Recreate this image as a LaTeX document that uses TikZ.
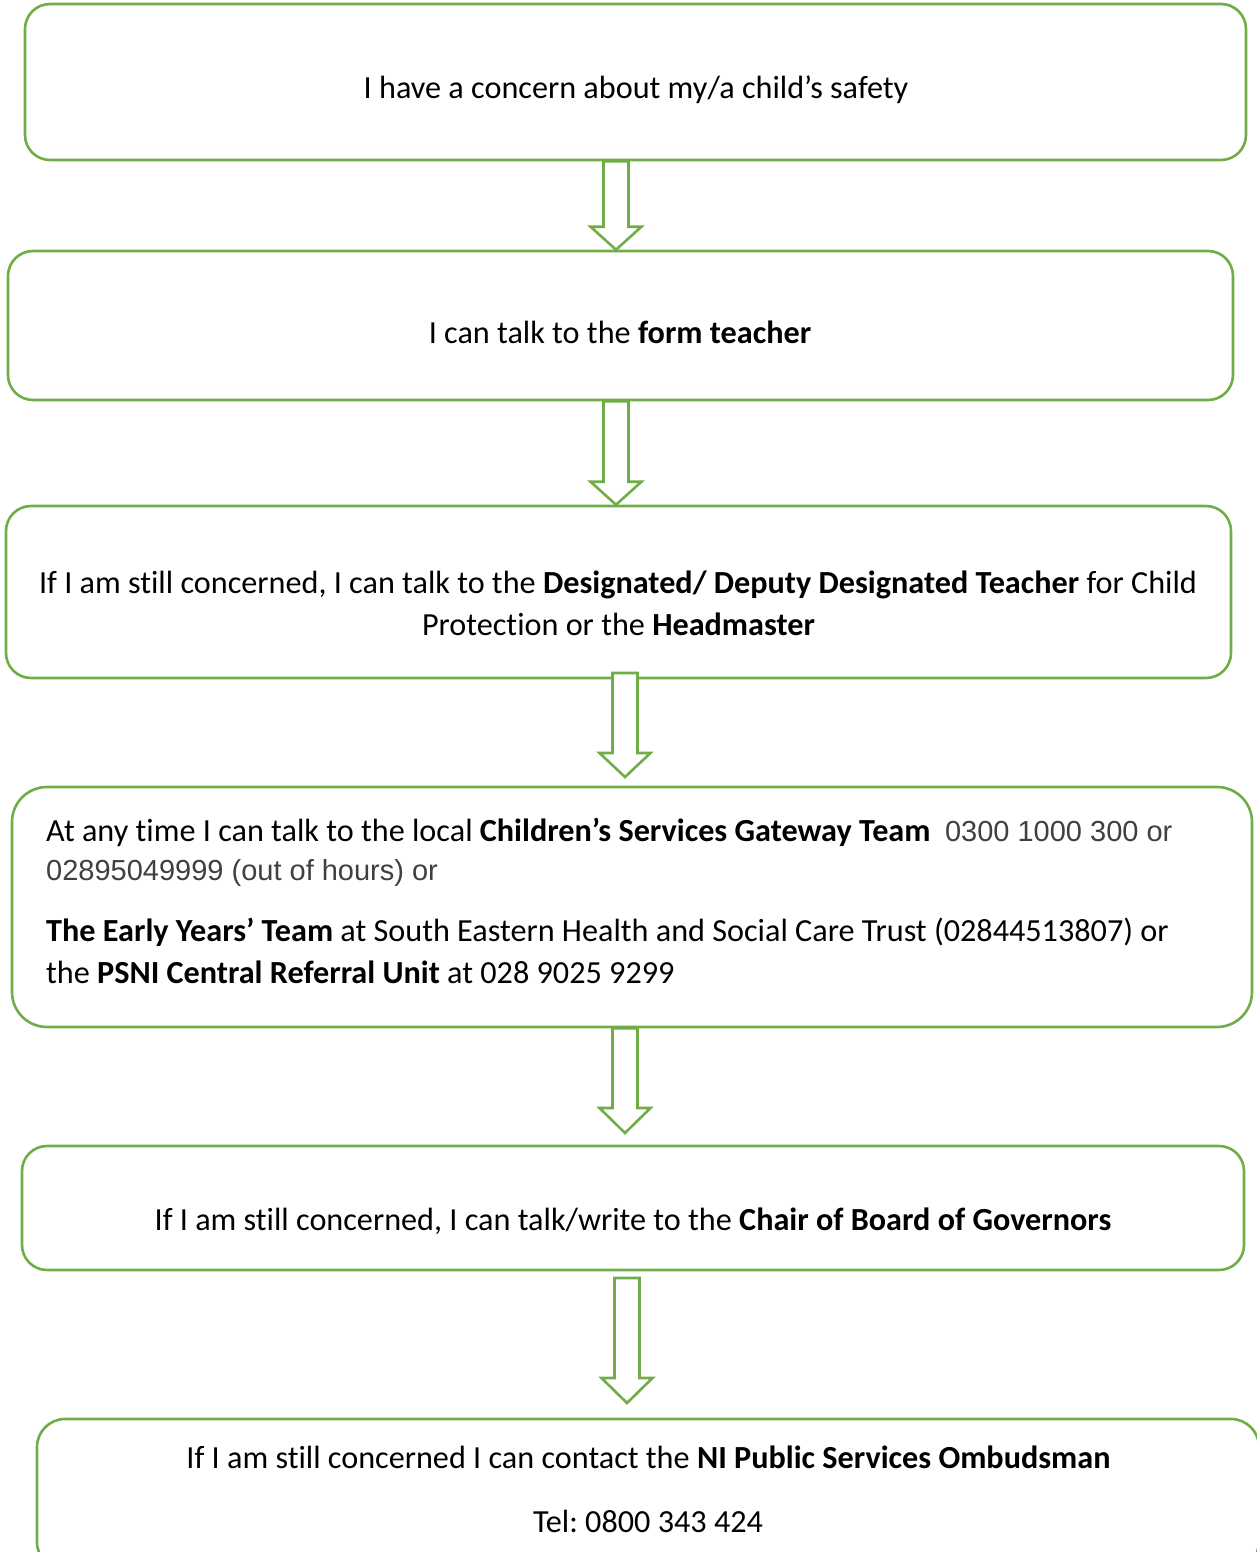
\documentclass[tikz,border=0pt]{standalone}
\usepackage{fontspec}
\setmainfont[RawFeature=-liga]{Carlito}
\newfontfamily\arialf{Liberation Sans}
\usetikzlibrary{calc}
\definecolor{grn}{HTML}{70AD47}
\definecolor{gry}{HTML}{404040}
\tikzset{
  box/.style={draw=grn, line width=2.6pt, rounded corners=25pt, fill=white, inner sep=0pt},
  barrow/.style={draw=grn, line width=2.6pt, fill=white, line join=miter},
  txt/.style={anchor=base, inner sep=0pt, font=\fontsize{32.2}{41}\selectfont\frenchspacing},
  ltxt/.style={anchor=base west, inner sep=0pt, font=\fontsize{32.2}{41}\selectfont\frenchspacing},
}
\newcommand\blockarrow[3]{% top coord, tip coord, head height
  \draw[barrow] ($(#1)+(-12.5,0)$) -- ($(#2)+(-12.5,-#3)$) -- ($(#2)+(-25.5,-#3)$) -- (#2)
    -- ($(#2)+(25.5,-#3)$) -- ($(#2)+(12.5,-#3)$) -- ($(#1)+(12.5,0)$) -- cycle;}
\begin{document}
\begin{tikzpicture}[x=1pt,y=-1pt]
\useasboundingbox (0,0) rectangle (1257,1552);
\clip (0,0) rectangle (1257,1552);
% boxes
\node[box, minimum width=1221pt, minimum height=156pt] (b1) at (635.5,82) {};
\node[box, minimum width=1225pt, minimum height=149pt] (b2) at (620.5,325.5) {};
\node[box, minimum width=1225pt, minimum height=172pt] (b3) at (618.5,592) {};
\node[box, minimum width=1240pt, minimum height=240pt, rounded corners=35pt] (b4) at (632,907) {};
\node[box, minimum width=1222pt, minimum height=124pt] (b5) at (633,1208) {};
\node[box, minimum width=1222pt, minimum height=151pt, rounded corners=28pt] (b6) at (648,1494.5) {};
% arrows
\coordinate (a1t) at (b1.south -| 616,0);
\coordinate (a1e) at (b2.north -| 616,0);
\coordinate (a2t) at (b2.south -| 616,0);
\coordinate (a2e) at (b3.north -| 616,0);
\coordinate (a3t) at (625,673);
\coordinate (a3e) at (625,777);
\coordinate (a4t) at (b4.south -| 625,0);
\coordinate (a4e) at (625,1133);
\coordinate (a5t) at (627,1278);
\coordinate (a5e) at (627,1403);
\blockarrow{a1t}{a1e}{23}
\blockarrow{a2t}{a2e}{23}
\blockarrow{a3t}{a3e}{24}
\blockarrow{a4t}{a4e}{25}
\blockarrow{a5t}{a5e}{25}
% texts
\node[txt] (t1) at (636,99) {I have a concern about my/a child’s safety};
\node[txt] (t2) at (620,343) {I can talk to the \textbf{form teacher}};
\node[txt] (t3a) at (618,593) {If I am still concerned, I can talk to the \textbf{Designated/ Deputy Designated Teacher} for Child};
\node[txt] (t3b) at (618.5,635) {Protection or the \textbf{Headmaster}};
\node[ltxt] (t4a) at (46,841) {At any time I can talk to the local \textbf{Children’s Services Gateway Team}\ \ {\arialf\color{gry}\fontsize{29}{36}\selectfont 0300 1000 300 or}};
\node[ltxt] (t4b) at (46,880) {\arialf\color{gry}\fontsize{29}{36}\selectfont 02895049999 (out of hours) or};
\node[ltxt] (t4c) at (46,941) {\textbf{The Early Years’ Team} at South Eastern Health and Social Care Trust (02844513807) or};
\node[ltxt] (t4d) at (46,983) {the \textbf{PSNI Central Referral Unit} at 028 9025 9299};
\node[txt] (t5) at (633,1230) {If I am still concerned, I can talk/write to the \textbf{Chair of Board of Governors}};
\node[txt] (t6a) at (648.5,1468) {If I am still concerned I can contact the \textbf{NI Public Services Ombudsman}};
\node[txt] (t6b) at (648,1532) {Tel: 0800 343 424};
\end{tikzpicture}
\end{document}
